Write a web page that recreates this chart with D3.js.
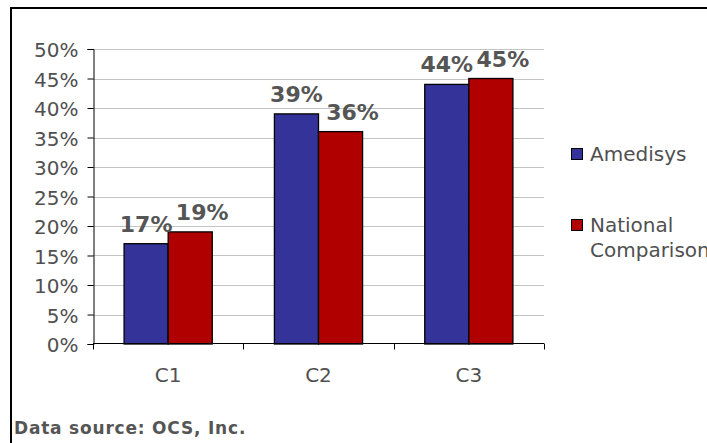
<!DOCTYPE html>
<html>
<head>
<meta charset="utf-8">
<script src="https://cdn.jsdelivr.net/npm/d3@7"></script>
<style>
  html, body { margin: 0; padding: 0; background: #fff; overflow: hidden; }
  svg { display: block; }
  text { font-family: "DejaVu Sans", Verdana, sans-serif; }
</style>
</head>
<body>
<svg id="chart" width="707" height="443"></svg>
<script>
// Chart data
const categories = ["C1", "C2", "C3"];
const seriesNames = ["Amedisys", "National Comparison"];
const amedisys = [17, 39, 44];
const nationalComparison = [19, 36, 45];
const yTicks = [0, 5, 10, 15, 20, 25, 30, 35, 40, 45, 50];
const seriesColors = ["#333399", "#b00000"];
const sourceNote = "Data source: OCS, Inc.";

const seriesValues = [amedisys, nationalComparison];
const rows = categories.map((c, i) => ({
  category: c,
  values: seriesNames.map((s, k) => ({ series: s, k, value: seriesValues[k][i] }))
}));

const svg = d3.select("#chart");
const FONT = "'DejaVu Sans', Verdana, sans-serif";
const TEXT_GREY = "#505050";

// Outer frame (left and top edges show; right/bottom run off the page)
svg.append("rect")
  .attr("x", 11).attr("y", 8)
  .attr("width", 760).attr("height", 500)
  .attr("fill", "none").attr("stroke", "#000").attr("stroke-width", 2);

const plot = { left: 93, right: 544, top: 49, bottom: 344 };

const x = d3.scaleBand().domain(categories)
  .range([plot.left, plot.right]).paddingInner(0).paddingOuter(0);
const xs = d3.scaleBand().domain(seriesNames)
  .range([0, x.bandwidth()]).paddingInner(0).paddingOuter(0.705);
const y = d3.scaleLinear().domain([0, 50]).range([plot.bottom, plot.top]);

// Horizontal gridlines
svg.append("g").selectAll("line")
  .data(yTicks.filter(t => t > 0))
  .join("line")
  .attr("x1", plot.left).attr("x2", plot.right)
  .attr("y1", d => Math.round(y(d)) + 0.5).attr("y2", d => Math.round(y(d)) + 0.5)
  .attr("stroke", "#c4c4c4").attr("stroke-width", 1);

// Y axis
const yAxis = svg.append("g")
  .attr("transform", `translate(${plot.left + 0.5},0)`)
  .call(d3.axisLeft(y).tickValues(yTicks).tickFormat(d => d + "%").tickSize(6).tickPadding(9));
yAxis.select(".domain").attr("stroke", "#000");
yAxis.selectAll(".tick line").attr("stroke", "#000");
yAxis.selectAll(".tick text")
  .attr("fill", TEXT_GREY)
  .attr("dy", "0.38em")
  .style("font-size", "20px")
  .style("font-family", FONT);

// Bars
const groups = svg.append("g").selectAll("g")
  .data(rows).join("g")
  .attr("transform", d => `translate(${x(d.category)},0)`);

groups.selectAll("rect")
  .data(d => d.values).join("rect")
  .attr("x", d => xs(d.series))
  .attr("width", xs.bandwidth())
  .attr("y", d => y(d.value))
  .attr("height", d => y(0) - y(d.value))
  .attr("fill", d => seriesColors[d.k])
  .attr("stroke", "#000").attr("stroke-width", 1.3);

// Value labels
groups.selectAll("text.val")
  .data(d => d.values).join("text")
  .attr("class", "val")
  .attr("x", d => xs(d.series) + xs.bandwidth() / 2 + (d.k === 1 ? 12 : 0))
  .attr("y", d => y(d.value) - 12)
  .attr("text-anchor", "middle")
  .attr("fill", "#555")
  .style("font-size", "22px").style("font-weight", "bold")
  .text(d => d.value + "%");

// X axis
const xAxis = svg.append("g")
  .attr("transform", `translate(0,${plot.bottom - 0.5})`)
  .call(d3.axisBottom(x).tickSize(0).tickPadding(0));
xAxis.select(".domain").remove();
xAxis.append("line")
  .attr("x1", plot.left).attr("x2", plot.right)
  .attr("stroke", "#000");
xAxis.selectAll(".tick text")
  .attr("y", 38).attr("dy", 0)
  .attr("fill", TEXT_GREY)
  .style("font-size", "20px")
  .style("font-family", FONT);
// Category boundary ticks
const boundaries = categories.map(c => x(c)).concat([plot.right]);
xAxis.selectAll("line.bound")
  .data(boundaries).join("line")
  .attr("class", "bound")
  .attr("x1", d => Math.round(d) + 0.5).attr("x2", d => Math.round(d) + 0.5)
  .attr("y1", 0).attr("y2", 6)
  .attr("stroke", "#000");

// Legend
const legend = svg.append("g").attr("transform", "translate(571,148)");
const legendItems = [["Amedisys"], ["National", "Comparison"]];
legendItems.forEach((lines, k) => {
  const g = legend.append("g").attr("transform", `translate(0,${k * 71})`);
  g.append("rect")
    .attr("x", 0.5).attr("y", 0.5).attr("width", 11).attr("height", 11)
    .attr("fill", seriesColors[k]).attr("stroke", "#000").attr("stroke-width", 1);
  lines.forEach((t, j) => {
    g.append("text")
      .attr("x", 19).attr("y", 13 + j * 25)
      .attr("fill", TEXT_GREY)
      .style("font-size", "20px")
      .text(t);
  });
});

// Source note
svg.append("text")
  .attr("x", 14).attr("y", 434)
  .attr("fill", "#555")
  .style("font-size", "17px").style("font-weight", "bold")
  .style("letter-spacing", "0.8px")
  .text(sourceNote);
</script>
</body>
</html>
